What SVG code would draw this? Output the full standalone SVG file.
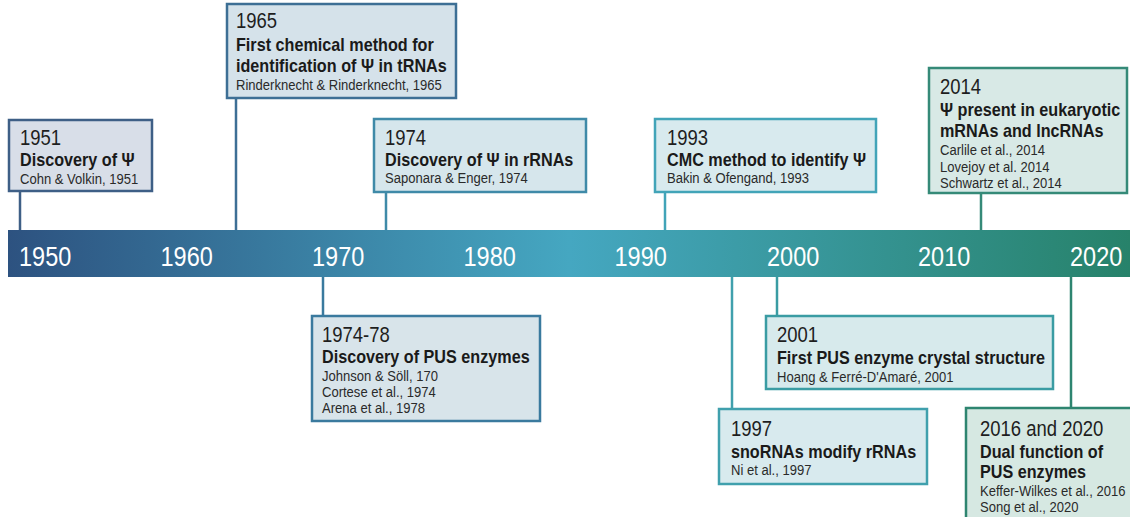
<svg xmlns="http://www.w3.org/2000/svg" width="1130" height="517" viewBox="0 0 1130 517">
<defs>
<linearGradient id="bar" x1="0" y1="0" x2="1" y2="0">
<stop offset="0" stop-color="#2d5280"/>
<stop offset="0.5" stop-color="#45a7c1"/>
<stop offset="1" stop-color="#27826a"/>
</linearGradient>
<style>
text{font-family:"Liberation Sans",Arial,sans-serif;transform-box:fill-box;transform-origin:0 50%}
.yr{font-size:21.5px;fill:#1e1e1e;transform:scaleX(0.86)}
.tt{font-size:17.5px;font-weight:bold;fill:#1a1a1a;transform:scaleX(0.925)}
.rf{font-size:14.5px;fill:#2a2a2a;transform:scaleX(0.9)}
.ax{font-size:28px;fill:#ffffff;transform:scaleX(0.84)}
rect.box{stroke-width:2.5}
.con line{stroke-width:2.5}
</style>
</defs>
<rect x="0" y="0" width="1130" height="517" fill="#ffffff"/>

<g id="connectors" class="con">
<line x1="20" y1="191" x2="20" y2="231" stroke="#3e5f86"/>
<line x1="236" y1="98" x2="236" y2="231" stroke="#3d6f95"/>
<line x1="386" y1="192" x2="386" y2="231" stroke="#3f8aa8"/>
<line x1="665" y1="192" x2="665" y2="231" stroke="#42a4b8"/>
<line x1="981" y1="193" x2="981" y2="231" stroke="#358a78"/>
<line x1="323" y1="276" x2="323" y2="316" stroke="#3a7a9e"/>
<line x1="732" y1="276" x2="732" y2="409" stroke="#40a0ad"/>
<line x1="777" y1="276" x2="777" y2="316" stroke="#3a9ca3"/>
<line x1="1071" y1="276" x2="1071" y2="408" stroke="#2e8570"/>
</g>

<g id="timeline">
<rect x="8" y="230" width="1122" height="47" fill="url(#bar)"/>
<text class="ax" x="19" y="266">1950</text>
<text class="ax" x="160.5" y="266">1960</text>
<text class="ax" x="312" y="266">1970</text>
<text class="ax" x="463.5" y="266">1980</text>
<text class="ax" x="614.5" y="266">1990</text>
<text class="ax" x="767" y="266">2000</text>
<text class="ax" x="918" y="266">2010</text>
<text class="ax" x="1070" y="266">2020</text>
</g>

<g id="n1951">
<rect class="box" x="9" y="120" width="143" height="71" fill="#d8dee8" stroke="#3e5f86"/>
<text class="yr" x="20" y="145">1951</text>
<text class="tt" x="20" y="166">Discovery of Ψ</text>
<text class="rf" x="20" y="184">Cohn &amp; Volkin, 1951</text>
</g>

<g id="n1965">
<rect class="box" x="227" y="4" width="229" height="94" fill="#d5e2ea" stroke="#3d6f95"/>
<text class="yr" x="236" y="28">1965</text>
<text class="tt" x="236" y="51">First chemical method for</text>
<text class="tt" x="236" y="72">identification of Ψ in tRNAs</text>
<text class="rf" x="236" y="90">Rinderknecht &amp; Rinderknecht, 1965</text>
</g>

<g id="n1974">
<rect class="box" x="374" y="119" width="212" height="73" fill="#d6e6ec" stroke="#3f8aa8"/>
<text class="yr" x="385" y="145">1974</text>
<text class="tt" x="385" y="166">Discovery of Ψ in rRNAs</text>
<text class="rf" x="385" y="183">Saponara &amp; Enger, 1974</text>
</g>

<g id="n1993">
<rect class="box" x="655" y="119" width="221" height="73" fill="#d8eaee" stroke="#42a4b8"/>
<text class="yr" x="667" y="145">1993</text>
<text class="tt" x="667" y="166">CMC method to identify Ψ</text>
<text class="rf" x="667" y="183">Bakin &amp; Ofengand, 1993</text>
</g>

<g id="n2014">
<rect class="box" x="929" y="68" width="198" height="125" fill="#d8e9e6" stroke="#358a78"/>
<text class="yr" x="940" y="94">2014</text>
<text class="tt" x="940" y="116">Ψ present in eukaryotic</text>
<text class="tt" x="940" y="137">mRNAs and lncRNAs</text>
<text class="rf" x="940" y="155">Carlile et al., 2014</text>
<text class="rf" x="940" y="172">Lovejoy et al. 2014</text>
<text class="rf" x="940" y="188">Schwartz et al., 2014</text>
</g>

<g id="n1974-78">
<rect class="box" x="312" y="316" width="228" height="105" fill="#d8e4ea" stroke="#3a7a9e"/>
<text class="yr" x="322" y="342">1974-78</text>
<text class="tt" x="322" y="363">Discovery of PUS enzymes</text>
<text class="rf" x="322" y="381">Johnson &amp; Söll, 170</text>
<text class="rf" x="322" y="397">Cortese et al., 1974</text>
<text class="rf" x="322" y="413">Arena et al., 1978</text>
</g>

<g id="n2001">
<rect class="box" x="766" y="316" width="287" height="73" fill="#d7eaec" stroke="#3a9ca3"/>
<text class="yr" x="777" y="342">2001</text>
<text class="tt" x="777" y="364">First PUS enzyme crystal structure</text>
<text class="rf" x="777" y="382">Hoang &amp; Ferré-D'Amaré, 2001</text>
</g>

<g id="n1997">
<rect class="box" x="719" y="409" width="208" height="75" fill="#d8eaee" stroke="#40a0ad"/>
<text class="yr" x="731" y="436">1997</text>
<text class="tt" x="731" y="458">snoRNAs modify rRNAs</text>
<text class="rf" x="731" y="475">Ni et al., 1997</text>
</g>

<g id="n2016">
<rect class="box" x="966" y="408" width="170" height="115" fill="#d6e8e2" stroke="#2e8570"/>
<text class="yr" x="980" y="436">2016 and 2020</text>
<text class="tt" x="980" y="458">Dual function of</text>
<text class="tt" x="980" y="478">PUS enzymes</text>
<text class="rf" x="980" y="496">Keffer-Wilkes et al., 2016</text>
<text class="rf" x="980" y="512">Song et al., 2020</text>
</g>
</svg>
